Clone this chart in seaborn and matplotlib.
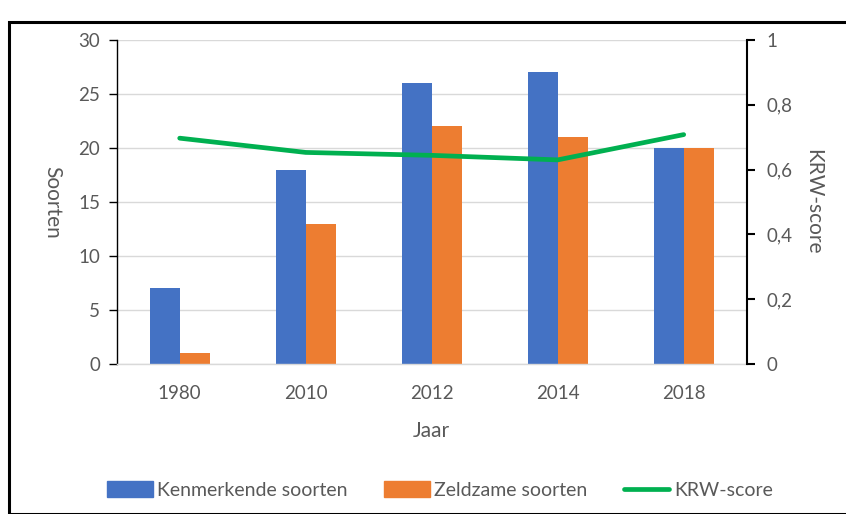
import numpy as np
import pandas as pd
import matplotlib
matplotlib.use("Agg")
import matplotlib.pyplot as plt
import seaborn as sns
from matplotlib.patches import Rectangle
from matplotlib.lines import Line2D
from matplotlib.ticker import FuncFormatter

years = ["1980", "2010", "2012", "2014", "2018"]
kenmerkende = [7, 18, 26, 27, 20]
zeldzame = [1, 13, 22, 21, 20]
krw_score = [0.697, 0.653, 0.644, 0.630, 0.708]
series_names = ["Kenmerkende soorten", "Zeldzame soorten"]
left_ticks = [0, 5, 10, 15, 20, 25, 30]
right_ticks = [0, 0.2, 0.4, 0.6, 0.8, 1.0]

blue = "#4472C4"
orange = "#ED7D31"
green = "#00B050"
txt = "#595959"

sns.set_theme(style="white")
plt.rcParams["font.family"] = ["Lato", "DejaVu Sans"]

df = pd.DataFrame({
    "Jaar": years * 2,
    "Soorten": kenmerkende + zeldzame,
    "Reeks": [series_names[0]] * len(years) + [series_names[1]] * len(years),
})

fig = plt.figure(figsize=(8.46, 5.14), dpi=100)
W, H = 846, 514
ax = fig.add_axes([116.7 / W, 1 - 364 / H, 630 / W, 324 / H])

sns.barplot(data=df, x="Jaar", y="Soorten", hue="Reeks", order=years,
            hue_order=series_names, palette=[blue, orange], width=0.476,
            gap=0, saturation=1, ax=ax, legend=False, linewidth=0)
ax.set_xlim(-0.5, len(years) - 0.5)
ax.set_ylim(0, 30)
ax.set_yticks(left_ticks)
ax.yaxis.grid(True, color="#D9D9D9", linewidth=1)
ax.set_axisbelow(True)
for s in ["top", "right"]:
    ax.spines[s].set_visible(False)
ax.spines["bottom"].set_color("#D9D9D9")
ax.spines["bottom"].set_linewidth(1)
ax.spines["left"].set_color("#000000")
ax.spines["left"].set_linewidth(1)
ax.tick_params(axis="y", left=True, length=6, width=1, color="#000000",
               labelsize=13.5, labelcolor=txt, pad=6)
ax.tick_params(axis="x", bottom=False, labelsize=13.5, labelcolor=txt, pad=9)
ax.set_xlabel("Jaar", fontsize=15, color=txt, labelpad=14)
ax.set_ylabel("Soorten", fontsize=15, color=txt, rotation=-90, labelpad=10,
              va="center")
ax.yaxis.set_label_coords(52 / 630 - 116.7 / 630, 0.5)

ax2 = ax.twinx()
sns.lineplot(x=np.arange(len(years)), y=krw_score, ax=ax2, color=green,
             linewidth=3.4, solid_capstyle="round")
ax2.set_ylim(0, 1)
ax2.set_yticks(right_ticks)
ax2.yaxis.set_major_formatter(FuncFormatter(
    lambda v, p: ("%g" % round(v, 1)).replace(".", ",")))
for s in ["top", "left", "bottom"]:
    ax2.spines[s].set_visible(False)
ax2.spines["right"].set_color("#000000")
ax2.spines["right"].set_linewidth(1.5)
ax2.tick_params(axis="y", right=True, length=6, width=1.5, color="#000000",
                labelsize=13.5, labelcolor=txt, pad=8)
ax2.set_ylabel("KRW-score", fontsize=15, color=txt, rotation=-90, va="center")
ax2.yaxis.set_label_coords((813 - 116.7) / 630, 0.5)

handles = [
    Rectangle((0, 0), 1, 1, color=blue),
    Rectangle((0, 0), 1, 1, color=orange),
    Line2D([0], [0], color=green, linewidth=3.4, solid_capstyle="round"),
]
fig.legend(handles, series_names + ["KRW-score"], loc="center",
           bbox_to_anchor=(440 / W, 1 - 490 / H), ncol=3, frameon=False,
           fontsize=14, labelcolor=txt, handlelength=2.35, handleheight=0.85,
           handletextpad=0.25, columnspacing=1.85)

fig.add_artist(Rectangle((9 / W, 0), 1, 1 - 22 / H, transform=fig.transFigure,
                         fill=False, edgecolor="black", linewidth=2.2))

fig.savefig("out.png", dpi=100)
